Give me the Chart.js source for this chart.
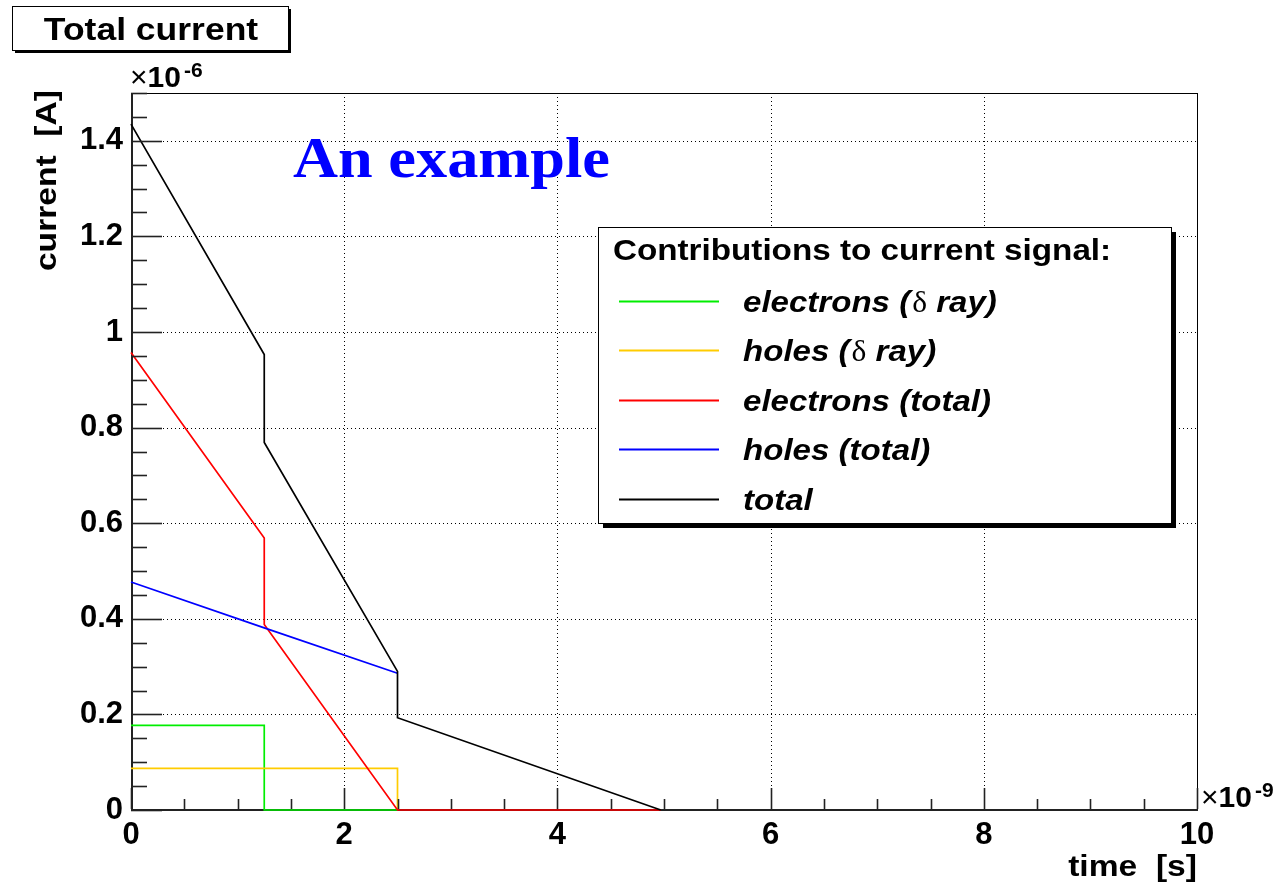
<!DOCTYPE html>
<html>
<head>
<meta charset="utf-8">
<script src="https://cdn.jsdelivr.net/npm/chart.js@4.4.1/dist/chart.umd.min.js"></script>
<style>
  html, body { margin: 0; padding: 0; background: #fff; overflow: hidden; }
  #wrap { width: 1280px; height: 884px; position: relative; }
  #c { display: block; width: 1280px; height: 884px; }
</style>
</head>
<body>
<div id="wrap"><canvas id="c" width="1280" height="884"></canvas></div>
<script>
/* ROOT風 電流波形: 時間[ns] × 電流[μA] */

const TIME_TICKS = [0, 2, 4, 6, 8, 10];
const CURRENT_TICKS = [0, 0.2, 0.4, 0.6, 0.8, 1, 1.2, 1.4];

// 各成分 (x: 時間 ×1e-9 s, y: 電流 ×1e-6 A)
const elecDeltaT = [0, 1.25, 1.25, 2.5];
const elecDeltaI = [0.177, 0.177, 0, 0];
const holeDeltaT = [0, 2.5, 2.5];
const holeDeltaI = [0.087, 0.087, 0];
const elecTotT = [0, 1.25, 1.25, 2.5, 4.97];
const elecTotI = [0.957, 0.569, 0.388, 0, 0];
const holeTotT = [0, 1.25, 2.5];
const holeTotI = [0.477, 0.381, 0.286];
const totalT = [0, 1.25, 1.25, 2.5, 2.5, 4.97];
const totalI = [1.435, 0.953, 0.769, 0.29, 0.193, 0];

const SERIES = [
  { label: "electrons (", delta: true, rest: " ray)", t: elecDeltaT, i: elecDeltaI, color: "#00ee00" },
  { label: "holes (", delta: true, rest: " ray)", t: holeDeltaT, i: holeDeltaI, color: "#ffcc00" },
  { label: "electrons (total)", t: elecTotT, i: elecTotI, color: "#ff0000" },
  { label: "holes (total)", t: holeTotT, i: holeTotI, color: "#0000ff" },
  { label: "total", t: totalT, i: totalI, color: "#000000" },
];

const SANS = "'Liberation Sans', Arial, Helvetica, sans-serif";
const SERIF = "'Liberation Serif', 'Times New Roman', serif";
const WIDE = 1.12; // Helvetica の字幅に寄せる横倍率

const toPts = (t, i) => t.map((v, k) => ({ x: v, y: i[k] }));

function line(ctx, x1, y1, x2, y2) {
  ctx.beginPath();
  ctx.moveTo(x1, y1);
  ctx.lineTo(x2, y2);
  ctx.stroke();
}

// 横倍率付きでテキストを書き、描いた幅を返す
function txt(ctx, s, x, y, font, align, sx) {
  ctx.save();
  ctx.font = font;
  const w = ctx.measureText(s).width * sx;
  const x0 = align === "center" ? x - w / 2 : align === "right" ? x - w : x;
  ctx.translate(x0, y);
  ctx.scale(sx, 1);
  ctx.textAlign = "left";
  ctx.textBaseline = "alphabetic";
  ctx.fillText(s, 0, 0);
  ctx.restore();
  return w;
}

// 影付きの箱 (ROOT の TPaveText 風)
function shadowBox(ctx, x, y, w, h, sh) {
  ctx.fillStyle = "#000";
  ctx.fillRect(x + sh, y + sh, w, h);
  ctx.fillStyle = "#fff";
  ctx.fillRect(x, y, w, h);
  ctx.strokeStyle = "#000";
  ctx.lineWidth = 1;
  ctx.strokeRect(x + 0.5, y + 0.5, w, h);
}

// ×10^n の表記
function expLabel(ctx, x, baseline, exp) {
  ctx.fillStyle = "#000";
  x += txt(ctx, "\u00d7", x, baseline, `30px ${SANS}`, "left", 1);
  x += txt(ctx, "10", x, baseline, `bold 30px ${SANS}`, "left", 1) + 3;
  txt(ctx, exp, x, baseline - 10, `bold 20px ${SANS}`, "left", 1.05);
}

const rootDecor = {
  id: "rootDecor",
  beforeDatasetsDraw(chart) {
    const { ctx, chartArea: a, scales } = chart;
    ctx.save();
    ctx.strokeStyle = "#000";
    ctx.lineWidth = 1;
    ctx.setLineDash([1, 3]);
    TIME_TICKS.forEach((v) => {
      if (v <= 0 || v >= 10) return;
      const px = Math.round(scales.x.getPixelForValue(v)) + 0.5;
      line(ctx, px, a.top, px, a.bottom);
    });
    CURRENT_TICKS.forEach((v) => {
      if (v <= 0) return;
      const py = Math.round(scales.y.getPixelForValue(v)) + 0.5;
      line(ctx, a.left, py, a.right, py);
    });
    ctx.setLineDash([]);
    // 枠と軸線 (データ線の下)
    ctx.strokeRect(a.left + 0.5, a.top + 0.5, a.right - a.left, a.bottom - a.top);
    ctx.strokeStyle = "#222";
    ctx.lineWidth = 2;
    line(ctx, a.left + 1, a.top, a.left + 1, a.bottom + 1);
    line(ctx, a.left, a.bottom, a.right + 1, a.bottom);
    ctx.restore();
  },
  afterDatasetsDraw(chart) {
    const { ctx, chartArea: a, scales } = chart;
    ctx.save();
    ctx.strokeStyle = "#222";
    // 内向きの目盛り
    ctx.lineWidth = 1.6;
    for (let k = 0; k <= 30; k++) {
      const v = k * 0.05;
      const py = Math.round(scales.y.getPixelForValue(v)) + 0.5;
      const major = k % 4 === 0;
      line(ctx, a.left, py, a.left + (major ? 31 : 16), py);
    }
    for (let k = 0; k <= 20; k++) {
      const v = k * 0.5;
      const px = Math.round(scales.x.getPixelForValue(v)) + 0.5;
      const major = k % 4 === 0;
      line(ctx, px, a.bottom - 1, px, a.bottom - (major ? 22 : 11));
    }
    ctx.restore();
  },
  afterDraw(chart) {
    const { ctx, chartArea: a } = chart;
    ctx.save();

    // タイトル箱
    shadowBox(ctx, 12, 6, 276, 44, 3);
    ctx.fillStyle = "#000";
    txt(ctx, "Total current", 151, 40, `bold 31px ${SANS}`, "center", 1.145);

    expLabel(ctx, 130, 87, "-6");
    expLabel(ctx, a.right + 4, 807, "-9");

    // 軸タイトル
    ctx.fillStyle = "#000";
    txt(ctx, "time  [s]", a.right, 876, `bold 30px ${SANS}`, "right", WIDE);
    ctx.save();
    ctx.translate(56, 90);
    ctx.rotate(-Math.PI / 2);
    txt(ctx, "current  [A]", 0, 0, `bold 30px ${SANS}`, "right", WIDE);
    ctx.restore();

    // 注記
    ctx.fillStyle = "#0000ff";
    ctx.font = `bold 56px ${SERIF}`;
    const w = ctx.measureText("An example").width;
    txt(ctx, "An example", 293, 177, `bold 56px ${SERIF}`, "left", 317 / w);

    // 凡例
    shadowBox(ctx, 598, 227, 573, 296, 5);
    ctx.fillStyle = "#000";
    txt(ctx, "Contributions to current signal:", 613, 260, `bold 30px ${SANS}`, "left", 1.107);
    const rowY = [301, 350, 400, 449, 499];
    const itFont = `italic bold 29px ${SANS}`;
    SERIES.forEach((s, k) => {
      const y = rowY[k];
      ctx.strokeStyle = s.color;
      ctx.lineWidth = 2;
      line(ctx, 619, y + 0.5, 719, y + 0.5);
      ctx.fillStyle = "#000";
      let x = 743;
      const base = y + 11;
      x += txt(ctx, s.label, x, base, itFont, "left", 1.14);
      if (s.delta) {
        x += 2;
        x += txt(ctx, "\u03b4", x, base, `30px ${SERIF}`, "left", 1.05);
        txt(ctx, s.rest, x, base, itFont, "left", 1.14);
      }
    });
    ctx.restore();
  },
};

new Chart(document.getElementById("c"), {
  type: "scatter",
  data: {
    datasets: SERIES.map((s, k) => ({
      label: s.label,
      data: toPts(s.t, s.i),
      showLine: true,
      borderColor: s.color,
      backgroundColor: s.color,
      borderWidth: 1.7,
      pointRadius: 0,
      pointHoverRadius: 0,
      tension: 0,
      clip: 4,
      order: SERIES.length - k,
    })),
  },
  options: {
    responsive: false,
    animation: false,
    devicePixelRatio: 1,
    layout: { padding: { top: 93, right: 83, left: 0, bottom: 0 } },
    plugins: { legend: { display: false }, tooltip: { enabled: false } },
    scales: {
      x: {
        type: "linear",
        min: 0,
        max: 10,
        afterFit: (s) => { s.height = 74; },
        afterBuildTicks: (s) => { s.ticks = TIME_TICKS.map((v) => ({ value: v })); },
        grid: { display: false, drawTicks: false },
        border: { display: false },
        ticks: { color: "#000", padding: 7, maxRotation: 0, autoSkip: false, font: { family: SANS, weight: "bold", size: 31 }, callback: (v) => String(v) },
      },
      y: {
        type: "linear",
        min: 0,
        max: 1.5,
        afterFit: (s) => { s.width = 131; },
        afterBuildTicks: (s) => { s.ticks = CURRENT_TICKS.map((v) => ({ value: v })); },
        grid: { display: false, drawTicks: false },
        border: { display: false },
        ticks: { color: "#000", padding: 8, autoSkip: false, font: { family: SANS, weight: "bold", size: 31 }, callback: (v) => String(Math.round(v * 10) / 10) },
      },
    },
  },
  plugins: [rootDecor],
});
</script>
</body>
</html>
